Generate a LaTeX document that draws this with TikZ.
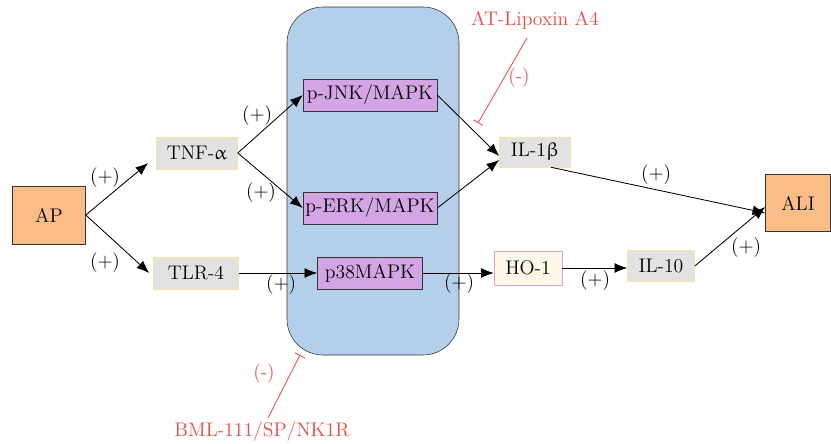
\documentclass[tikz,border=0pt]{standalone}
\usepackage{upgreek}
\usetikzlibrary{arrows.meta}
\definecolor{apOrange}{HTML}{FBBD88}
\definecolor{cytoGrey}{HTML}{E3E2E3}
\definecolor{cytoEdge}{HTML}{F2E79A}
\definecolor{cellBlue}{HTML}{B3CFEA}
\definecolor{kinPurple}{HTML}{D4A5E5}
\definecolor{hoCream}{HTML}{FFF8E7}
\definecolor{inhRed}{HTML}{EC4A42}
\begin{document}
\begin{tikzpicture}[font=\fontsize{14}{16}\selectfont,
  endbox/.style={draw=black!80,fill=apOrange,minimum width=1.825cm,minimum height=1.45cm},
  cyto/.style={draw=cytoEdge,fill=cytoGrey,minimum height=0.8cm,inner sep=0.1cm},
  kinase/.style={draw=black!80,fill=kinPurple,minimum height=0.8cm,inner sep=0.05cm},
  act/.style={-{Latex[length=9pt,width=7pt]},semithick},
  inh/.style={inhRed,-{Bar[width=8pt]},semithick},
  sign/.style={inner sep=1pt}]
   \useasboundingbox (0,0) rectangle (20.775,11.075);
   \fill[cellBlue,draw=black!80,rounded corners=0.9cm] (7.175,2.2) rectangle (11.475,10.9);
   % nodes
   \node[endbox] (AP) at (1.225,5.7) {AP};
   \node[endbox,minimum width=1.625cm,minimum height=1.425cm] (ALI) at (19.95,6.0) {ALI};
   \node[cyto,minimum width=2.025cm] (TNF) at (4.925,7.25) {TNF-$\upalpha$};
   \node[cyto,minimum width=2.125cm] (TLR) at (4.9,4.25) {TLR-4};
   \node[kinase,minimum width=3.35cm] (JNK) at (9.25,8.7) {p-JNK/MAPK};
   \node[kinase,minimum width=3.35cm] (ERK) at (9.25,5.875) {p-ERK/MAPK};
   \node[kinase,minimum width=2.625cm] (P38) at (9.25,4.25) {p38MAPK};
   \node[cyto,minimum width=1.775cm,minimum height=0.75cm] (IL1) at (13.375,7.275) {IL-1$\upbeta$};
   \node[cyto,draw=kinPurple,fill=hoCream,minimum width=1.7cm,minimum height=0.85cm] (HO) at (13.2,4.375) {HO-1};
   \node[cyto,minimum width=1.675cm,minimum height=0.775cm] (IL10) at (16.525,4.425) {IL-10};
   % activations
   \draw[act] (AP.east) -- ([xshift=-0.2cm,yshift=-0.25cm]TNF.west);
   \draw[act] (AP.east) -- ([xshift=-0.1cm]TLR.west);
   \draw[act] (TNF.east) -- (JNK.west);
   \draw[act] (TNF.east) -- (ERK.west);
   \draw[act] (TLR.east) -- (P38.west);
   \draw[act] (JNK.east) -- ([yshift=-0.1cm]IL1.west);
   \draw[act] (ERK.east) -- ([yshift=-0.2cm]IL1.west);
   \draw[act] (P38.east) -- (P38.east -| HO.west);
   \draw[act] (HO.east) -- (HO.east -| IL10.west);
   \draw[act] ([xshift=0.4cm]IL1.south) -- ([yshift=-0.25cm]ALI.west);
   \draw[act] (IL10.east) -- ([yshift=-0.1cm]ALI.west);
   % signs
   \foreach \x/\y in {2.625/6.625, 2.625/4.5, 6.425/8.175, 6.525/6.25, 7.025/3.95,
                      11.475/3.975, 14.875/4.05, 16.4/6.7, 18.65/4.875}
     \node[sign] at (\x,\y) {(+)};
   % inhibitors
   \node[inhRed] (LXA) at (13.375,10.575) {AT-Lipoxin A4};
   \coordinate (lxaEnd) at (11.95,8.0);
   \draw[inh] (13.175,10.125) -- (lxaEnd);
   \node[inhRed] (lxaSign) at (12.975,9.125) {(-)};
   \node[inhRed] (BML) at (6.55,0.275) {BML-111/SP/NK1R};
   \coordinate (bmlEnd) at (7.5,2.2);
   \draw[inh] (6.7,0.625) -- (bmlEnd);
   \node[inhRed] (bmlSign) at (6.6,1.725) {(-)};
\end{tikzpicture}
\end{document}
